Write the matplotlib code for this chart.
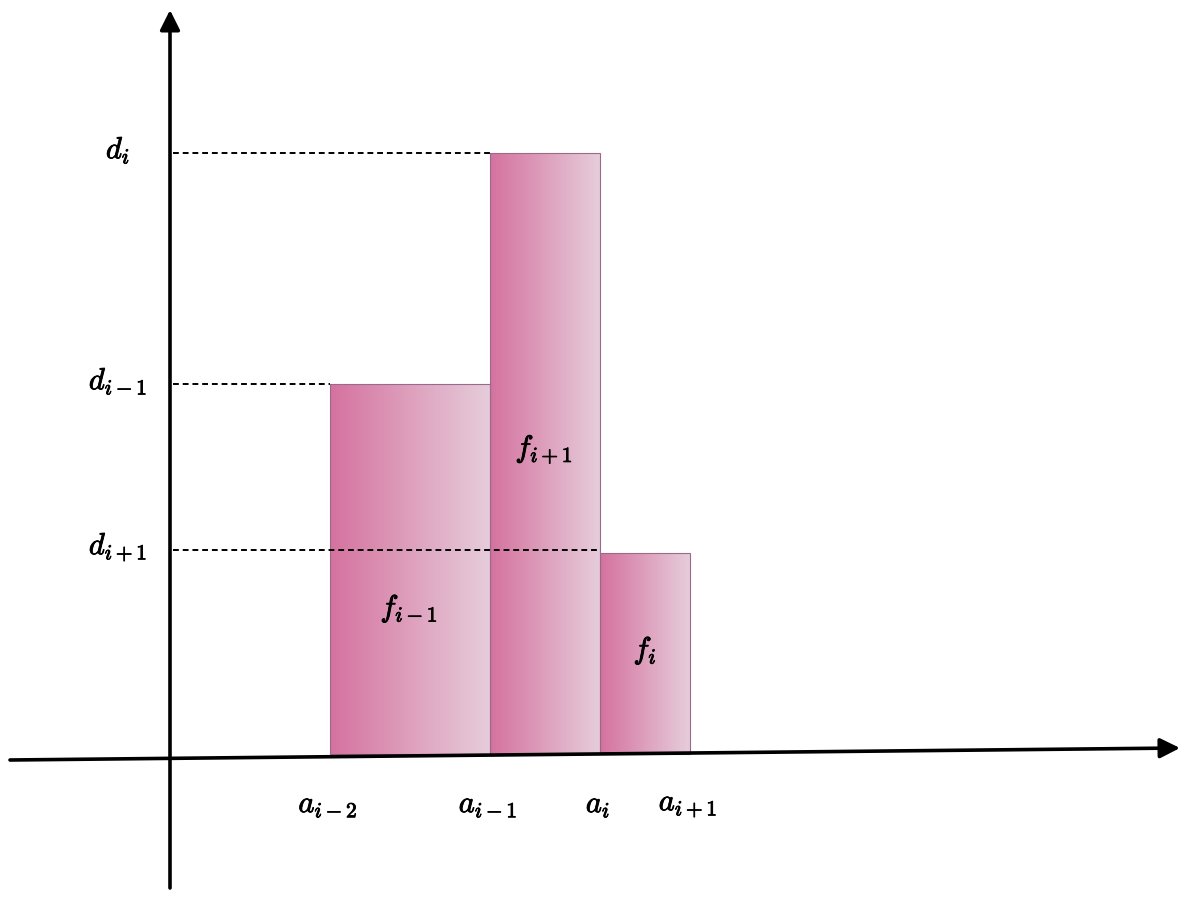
import matplotlib
matplotlib.use('Agg')
import matplotlib.pyplot as plt
import matplotlib.patheffects as pe
import numpy as np
from matplotlib.colors import LinearSegmentedColormap
from matplotlib.patches import Rectangle

plt.rcParams['mathtext.fontset'] = 'cm'

# datos (unidades arbitrarias, origen en el cruce de los ejes)
bordes = [160, 320, 430, 520]          # a_{i-2}, a_{i-1}, a_i, a_{i+1}
alturas = [370, 601, 201]              # barras f_{i-1}, f_{i+1}, f_i
etiquetas_barras = ['$f_{i-1}$', '$f_{i+1}$', '$f_i$']
etiquetas_x = ['$a_{i-2}$', '$a_{i-1}$', '$a_i$', '$a_{i+1}$']
niveles_d = [601, 370, 204]
fin_d = [320, 160, 430]
etiquetas_d = ['$d_i$', '$d_{i-1}$', '$d_{i+1}$']

fig = plt.figure(figsize=(11.9, 9), dpi=100)
ax = fig.add_axes([0, 0, 1, 1])
ax.set_xlim(-170, 1020)
ax.set_ylim(-146, 754)
ax.axis('off')

cmap = LinearSegmentedColormap.from_list('rosa', ['#D5729F', '#E6CDDB'])
grad = np.linspace(0, 1, 256).reshape(1, -1)
trazo = [pe.withStroke(linewidth=0.6, foreground='black')]

# barras con degradado
for i in range(3):
    x0, x1 = bordes[i], bordes[i + 1]
    h = alturas[i]
    ax.imshow(grad, cmap=cmap, extent=[x0, x1, 0, h], aspect='auto', zorder=2)
    ax.add_patch(Rectangle((x0, 0), x1 - x0, h, fill=False,
                           edgecolor='#9A6A8C', lw=0.8, zorder=3))
    ax.text(bordes[i] + [79, 54, 45][i], [146, 305, 104][i], etiquetas_barras[i],
            fontsize=22, ha='center', va='center', zorder=4, path_effects=trazo)

# lineas punteadas
for y, xf, lab in zip(niveles_d, fin_d, etiquetas_d):
    ax.plot([3, xf], [y, y], color='black', lw=1.4, ls=(0, (3, 2)), zorder=4)
    ax.text(-52, y + 3, lab, fontsize=22, ha='center', va='center', path_effects=trazo)

# etiquetas eje x
for xb, lab in zip(bordes, etiquetas_x):
    ax.text(xb - 2, -51, lab, fontsize=22, ha='center', va='center', path_effects=trazo)

# ejes con flechas
ax.annotate('', xy=(1010, 6), xytext=(-160, -6),
            arrowprops=dict(arrowstyle='-|>', color='black', lw=2.6,
                            mutation_scale=30, shrinkA=0, shrinkB=0), zorder=5)
ax.annotate('', xy=(0, 744), xytext=(0, -134),
            arrowprops=dict(arrowstyle='-|>', color='black', lw=2.6,
                            mutation_scale=30, shrinkA=0, shrinkB=0), zorder=5)

plt.savefig('out.png', dpi=100)
